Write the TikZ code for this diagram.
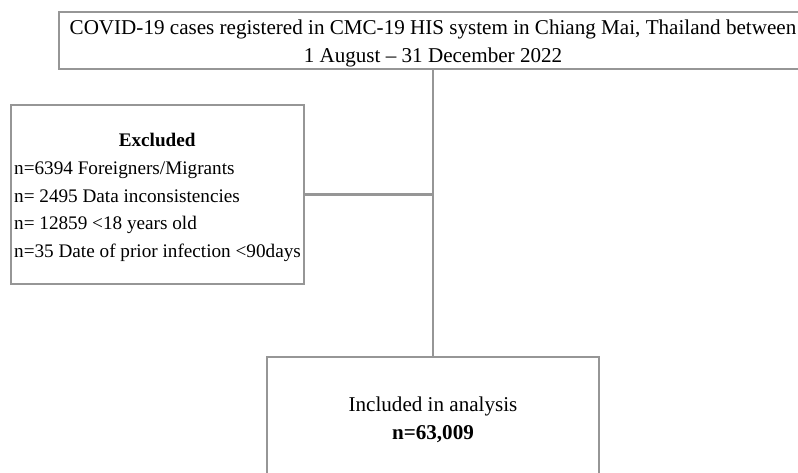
\documentclass[tikz,border=0pt]{standalone}
\usepackage{fontspec}
\setmainfont{Liberation Serif}
\definecolor{boxgray}{RGB}{150,150,150}
\tikzset{
  boxnode/.style={draw=boxgray, line width=2.6pt, fill=white, inner sep=0pt},
  bigtext/.style={inner sep=0pt, font=\fontsize{21.1pt}{27.7pt}\selectfont},
  smalltext/.style={inner sep=0pt, font=\fontsize{19.2pt}{27.7pt}\selectfont},
  conn/.style={draw=boxgray, line width=2.6pt}
}
\begin{document}
\begin{tikzpicture}[x=1pt,y=-1pt]
\useasboundingbox (0,0) rectangle (798,473);
\clip (0,0) rectangle (798,473);
\node[boxnode, minimum width=748pt, minimum height=57pt] (top) at (433,40.5) {};
\node[bigtext, align=center] (toptext) at ([yshift=-3pt]top.center)
  {COVID-19 cases registered in CMC-19 HIS system in Chiang Mai, Thailand between\\1 August -- 31 December 2022};
\node[boxnode, minimum width=293pt, minimum height=179pt] (excl) at (157.5,194.5) {};
\node[smalltext, align=left] (excltext) at ([yshift=-3pt]excl.center)
  {\makebox[286pt][c]{\textbf{Excluded}}\\
   n=6394 Foreigners/Migrants\\
   n= 2495 Data inconsistencies\\
   n= 12859 <18 years old\\
   n=35 Date of prior infection <90days};
\node[boxnode, minimum width=332pt, minimum height=122pt] (incl) at (433,418) {};
\node[bigtext, align=center] (incltext) at ([yshift=-2pt]incl.center)
  {Included in analysis\\\textbf{n=63,009}};
\coordinate (join) at (excl.east -| top.south);
\draw[conn] (top.south) -- (incl.north);
\draw[conn] (excl.east) -- (join);
\end{tikzpicture}
\end{document}
